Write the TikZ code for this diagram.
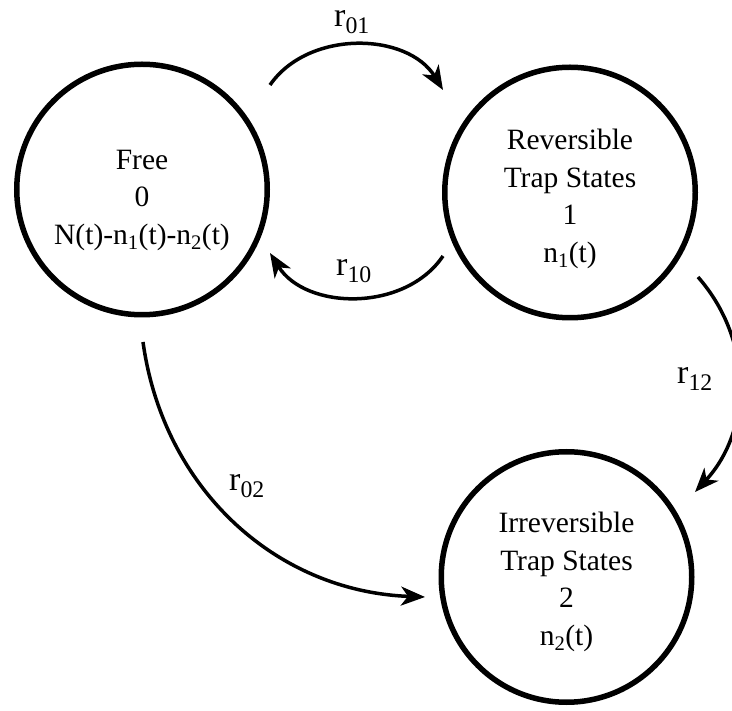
\documentclass[tikz,border=0pt]{standalone}
\usepackage{fontspec}
\setmainfont{Liberation Serif}
\usetikzlibrary{arrows.meta}
\begin{document}
\begin{tikzpicture}[x=1pt,y=-1pt,
  state/.style={circle,draw,line width=5.5pt,minimum size=250.5pt,inner sep=0pt},
  statetext/.style={align=center,font=\fontsize{29.5}{37.5}\selectfont},
  flow/.style={line width=3.5pt,-{Stealth[length=24pt,width=19pt,inset=7pt]}},
  rate/.style={font=\fontsize{34}{38}\selectfont,inner sep=0pt}]
\useasboundingbox (0,0) rectangle (732,711);
% states
\node[state] (free) at (142,189.5) {};
\node[state] (rev) at (570,192.5) {};
\node[state] (irr) at (566.5,577) {};
\node[statetext] (freetext) at (142,200) {Free\\0\\N(t)-n\textsubscript{1}(t)-n\textsubscript{2}(t)};
\node[statetext] (revtext) at (570,199) {Reversible\\Trap States\\1\\n\textsubscript{1}(t)};
\node[statetext] (irrtext) at (566.5,582) {Irreversible\\Trap States\\2\\n\textsubscript{2}(t)};
% connector ends
\coordinate (s01) at (270,85);   \coordinate (e01) at (443,90);
\coordinate (s10) at (443,256);  \coordinate (e10) at (270,253);
\coordinate (s12) at (698,277);  \coordinate (e12) at (695,492);
\coordinate (s02) at (143,342);  \coordinate (e02) at (425,597);
% connectors
\draw[flow] (s01) to[bend left=57] (e01);
\draw[flow] (s10) to[bend left=57] (e10);
\draw[flow] (s12) to[bend left=42] (e12);
\draw[flow] (s02) to[bend right=40] (e02);
% rate labels
\node[rate] (l01) at (352,22) {r\textsubscript{01}};
\node[rate] (l10) at (354,271) {r\textsubscript{10}};
\node[rate] (l12) at (695,379) {r\textsubscript{12}};
\node[rate] (l02) at (247,486) {r\textsubscript{02}};
\end{tikzpicture}
\end{document}
